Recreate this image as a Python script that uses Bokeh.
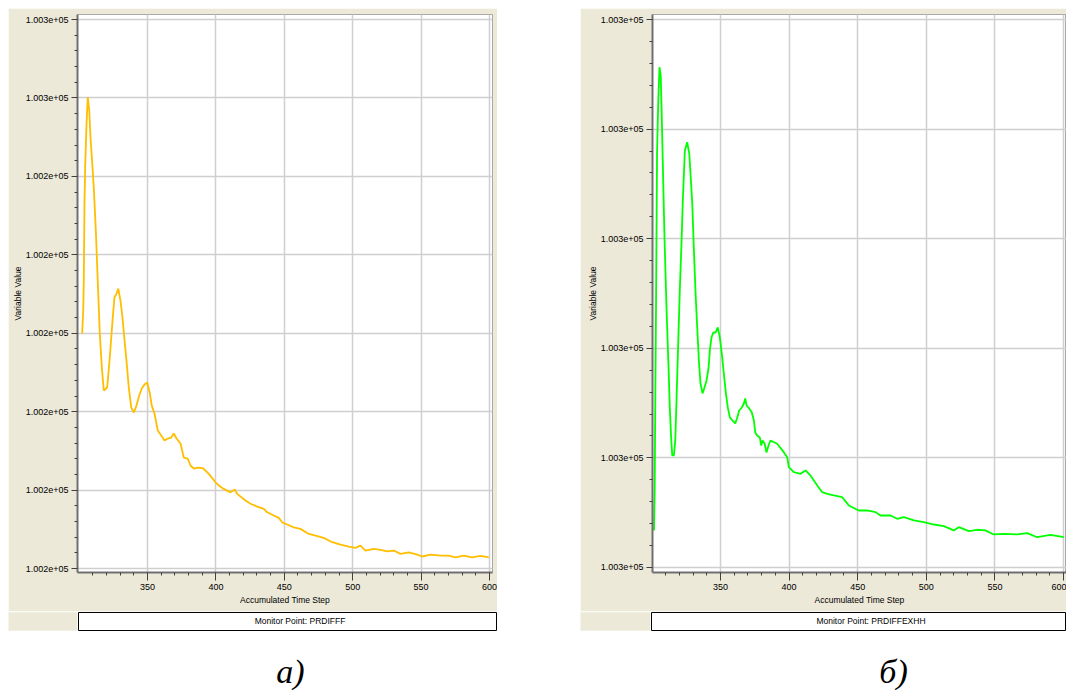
from bokeh.plotting import figure
from bokeh.layouts import row, column, Spacer
from bokeh.models import FixedTicker, Legend, LegendItem, Label, Range1d
from bokeh.embed import file_html
from bokeh.resources import INLINE

# ---------------- data ----------------
steps_a = [302.2, 303.0, 303.4, 303.9, 304.4, 305.4, 306.3, 307.4, 308.3, 309.3,
           310.7, 312.2, 313.6, 315.1, 316.6, 318.0, 320.5, 322.4, 324.4, 325.8,
           327.3, 328.6, 330.2, 331.7, 333.2, 334.6, 336.3, 338.1, 340.0, 341.9,
           343.9, 345.8, 347.8, 349.8, 351.7, 353.1, 355.1, 357.5, 360.0, 362.4,
           364.8, 367.3, 369.2, 371.2, 374.1, 376.5, 379.4, 381.4, 383.8, 387.3,
           390.7, 394.8, 399.7, 402.1, 405.7, 410.6, 413.8, 415.5, 421.6, 425.3,
           430.2, 435.0, 437.5, 442.3, 446.0, 448.4, 452.1, 456.9, 461.8, 467.9,
           472.8, 478.8, 485.0, 491.1, 497.1, 502.0, 505.7, 509.3, 515.4, 520.3,
           525.2, 530.0, 534.9, 541.0, 547.1, 550.8, 556.8, 564.2, 570.2, 575.1,
           581.2, 587.3, 593.4, 599.5]
values_a = [100234.98, 100236.45, 100238.36, 100243.27, 100245.56, 100248.37, 100250.05, 100249.20, 100247.48, 100246.20,
            100244.29, 100241.55, 100238.36, 100234.98, 100232.81, 100231.35, 100231.54, 100233.45, 100235.81, 100237.28,
            100237.53, 100237.85, 100237.09, 100236.00, 100234.54, 100233.26, 100231.54, 100230.26, 100229.95, 100230.39,
            100231.03, 100231.48, 100231.73, 100231.86, 100231.16, 100230.39, 100229.88, 100228.80, 100228.48, 100228.16,
            100228.29, 100228.35, 100228.61, 100228.29, 100227.97, 100227.08, 100227.01, 100226.57, 100226.38, 100226.44,
            100226.38, 100226.04, 100225.50, 100225.29, 100225.08, 100224.86, 100225.04, 100224.76, 100224.34, 100224.13,
            100223.95, 100223.81, 100223.59, 100223.38, 100223.23, 100222.95, 100222.81, 100222.63, 100222.53, 100222.21,
            100222.10, 100221.96, 100221.68, 100221.53, 100221.40, 100221.32, 100221.47, 100221.15, 100221.26, 100221.19,
            100221.10, 100221.15, 100220.94, 100221.04, 100220.89, 100220.77, 100220.89, 100220.83, 100220.83, 100220.72,
            100220.83, 100220.72, 100220.81, 100220.72]

steps_b = [301.5, 302.0, 302.5, 303.0, 303.7, 304.6, 305.5, 306.4, 307.0, 308.2,
           309.2, 310.6, 312.1, 313.0, 314.1, 314.8, 316.0, 317.0, 317.9, 319.2,
           320.3, 321.6, 322.5, 324.0, 325.7, 327.2, 328.1, 329.4, 330.5, 331.8,
           333.0, 334.2, 335.4, 336.9, 338.3, 339.8, 341.3, 342.2, 343.4, 344.7,
           346.4, 348.0, 349.5, 350.9, 352.4, 353.9, 355.3, 356.8, 358.7, 360.7,
           362.2, 363.6, 365.5, 367.0, 368.0, 369.0, 370.9, 372.8, 374.3, 375.3,
           376.7, 378.6, 379.7, 380.6, 382.1, 383.5, 385.0, 386.4, 391.3, 396.1,
           398.6, 399.8, 403.4, 408.3, 412.0, 415.6, 420.5, 424.1, 427.8, 432.6,
           438.7, 443.5, 450.8, 456.9, 463.0, 466.6, 473.9, 478.8, 483.6, 490.9,
           498.2, 505.5, 512.8, 520.0, 523.7, 531.0, 537.1, 543.1, 549.2, 556.5,
           566.3, 573.5, 580.8, 590.5, 600.2]
values_b = [100263.38, 100267.03, 100276.42, 100284.36, 100297.77, 100302.61, 100305.65, 100304.89, 100301.97, 100295.31,
            100289.84, 100283.72, 100278.25, 100274.60, 100271.59, 100270.22, 100270.22, 100271.59, 100275.24, 100280.71,
            100285.27, 100289.84, 100293.49, 100298.05, 100298.80, 100297.77, 100295.95, 100293.21, 100289.20, 100285.00,
            100281.90, 100278.89, 100276.79, 100275.88, 100276.42, 100277.06, 100278.25, 100279.80, 100280.99, 100281.44,
            100281.44, 100281.90, 100280.99, 100279.53, 100277.70, 100275.88, 100274.60, 100273.69, 100273.41, 100273.14,
            100273.69, 100274.32, 100274.60, 100274.96, 100275.42, 100274.78, 100274.51, 100274.14, 100273.41, 100272.32,
            100272.04, 100271.86, 100271.13, 100271.59, 100271.31, 100270.49, 100271.13, 100271.59, 100271.29, 100270.52,
            100270.06, 100269.15, 100268.69, 100268.55, 100268.85, 100268.39, 100267.48, 100266.87, 100266.72, 100266.57,
            100266.41, 100265.66, 100265.20, 100265.20, 100265.05, 100264.74, 100264.74, 100264.44, 100264.59, 100264.29,
            100264.13, 100263.92, 100263.77, 100263.38, 100263.68, 100263.31, 100263.44, 100263.38, 100263.01, 100263.07,
            100263.01, 100263.13, 100262.76, 100262.98, 100262.76]

y_ticks_a = [100220, 100225, 100230, 100235, 100240, 100245, 100250, 100255]
y_labels_a = ["1.002e+05", "1.002e+05", "1.002e+05", "1.002e+05",
              "1.002e+05", "1.002e+05", "1.003e+05", "1.003e+05"]
y_ticks_b = [100260, 100270, 100280, 100290, 100300, 100310]
y_labels_b = ["1.003e+05"] * 6
x_ticks = [350, 400, 450, 500, 550, 600]
series_names = ["Monitor Point: PRDIFFF", "Monitor Point: PRDIFFEXHH"]
series_colors = ["#FFBE00", "#00FF00"]
captions = ["а)", "б)"]
x_title = "Accumulated Time Step"
y_title = "Variable Value"

# ---------------- style ----------------
BEIGE = "#ECE9D8"
FONT = "Liberation Sans"


def minor_between(major, n):
    out = []
    for a, b in zip(major[:-1], major[1:]):
        step = (b - a) / n
        out += [a + step * k for k in range(1, n)]
    return out


x_minor = [310, 320, 330, 340] + minor_between(x_ticks, 5)


def make_panel(xs, ys, color, name, yticks, ylabels, x_rng, y_rng,
               width, left_border, right_border, leg_offset, leg_width):
    p = figure(width=width, height=603, x_range=Range1d(*x_rng),
               y_range=Range1d(*y_rng), toolbar_location=None,
               output_backend="svg", min_border_left=left_border,
               min_border_right=right_border, min_border_top=6,
               min_border_bottom=39, background_fill_color="white",
               border_fill_color=BEIGE, outline_line_color="#A8A8A8")
    p.line(xs, ys, line_color=color, line_width=1.8)

    xa = p.xaxis[0]
    xa.ticker = FixedTicker(ticks=x_ticks, minor_ticks=x_minor)
    xa.axis_label = x_title
    ya = p.yaxis[0]
    ya.ticker = FixedTicker(ticks=yticks, minor_ticks=minor_between(yticks, 5))
    ya.major_label_overrides = {t: l for t, l in zip(yticks, ylabels)}
    ya.axis_label = y_title
    for ax in (xa, ya):
        ax.axis_line_color = "#707070"
        ax.axis_line_width = 2
        ax.major_tick_line_color = "#404040"
        ax.minor_tick_line_color = "#404040"
        ax.major_tick_in = 0
        ax.minor_tick_in = 0
        ax.minor_tick_out = 3
        ax.major_label_text_font = FONT
        ax.major_label_text_font_size = "9px"
        ax.major_label_text_color = "#000000"
        ax.axis_label_text_font = FONT
        ax.axis_label_text_font_size = "8.5px"
        ax.axis_label_text_font_style = "normal"
        ax.axis_label_text_color = "#000000"
    xa.major_tick_out = 8
    xa.major_label_standoff = 3
    xa.axis_label_standoff = 2
    ya.major_tick_out = 6
    ya.major_label_standoff = 3
    ya.axis_label_standoff = 0

    p.xgrid.ticker = FixedTicker(ticks=x_ticks)
    p.ygrid.ticker = FixedTicker(ticks=yticks)
    p.grid.grid_line_color = "#CFCFCF"
    p.grid.grid_line_width = 1.5

    # legend strip
    pad = figure(width=leg_offset, height=20, toolbar_location=None,
                 output_backend="svg", x_axis_type=None, y_axis_type=None,
                 min_border=0, outline_line_color=None,
                 background_fill_color=BEIGE, border_fill_color=BEIGE)
    pad.grid.visible = False
    lf = figure(width=leg_width, height=20, toolbar_location=None,
                output_backend="svg", x_axis_type=None, y_axis_type=None,
                min_border=1, outline_line_color="#000000",
                background_fill_color="white", border_fill_color=BEIGE)
    lf.grid.visible = False
    lr = lf.line([], [], line_color=color, line_width=1.8)
    leg = Legend(items=[LegendItem(label=name, renderers=[lr])],
                 location="center", border_line_alpha=0,
                 background_fill_alpha=0, glyph_width=20, glyph_height=10,
                 label_standoff=6, padding=0, margin=0,
                 label_text_font=FONT, label_text_font_size="8.5px",
                 label_text_color="#000000", label_height=10)
    lf.add_layout(leg, "center")
    return column(p, row(pad, lf))


left = make_panel(steps_a, values_a, series_colors[0], series_names[0],
                  y_ticks_a, y_labels_a, (298.8, 602.2), (100219.75, 100255.32),
                  489, 69, 5, 69, 420)
gap = figure(width=83, height=623, toolbar_location=None, output_backend="svg",
             x_axis_type=None, y_axis_type=None, min_border=0,
             outline_line_color=None, background_fill_color="white",
             border_fill_color="white")
gap.grid.visible = False
right = make_panel(steps_b, values_b, series_colors[1], series_names[1],
                   y_ticks_b, y_labels_b, (300.4, 602.2), (100259.54, 100310.46),
                   486, 72, 0, 70, 416)

cap = figure(width=1066, height=65, toolbar_location=None, output_backend="svg",
             x_axis_type=None, y_axis_type=None, min_border=0,
             outline_line_color=None, background_fill_color="white",
             border_fill_color="white")
cap.grid.visible = False
for text, cx in zip(captions, [290, 893]):
    cap.add_layout(Label(x=cx, y=25, x_units="screen", y_units="screen",
                         text=text, text_align="center",
                         text_baseline="middle",
                         text_font="Liberation Serif", text_font_size="34px",
                         text_font_style="italic", text_color="#000000"))

layout = column(Spacer(width=1066, height=8),
                row(Spacer(width=8, height=623), left, gap, right),
                cap)

open("out.html", "w").write(file_html(layout, INLINE))
